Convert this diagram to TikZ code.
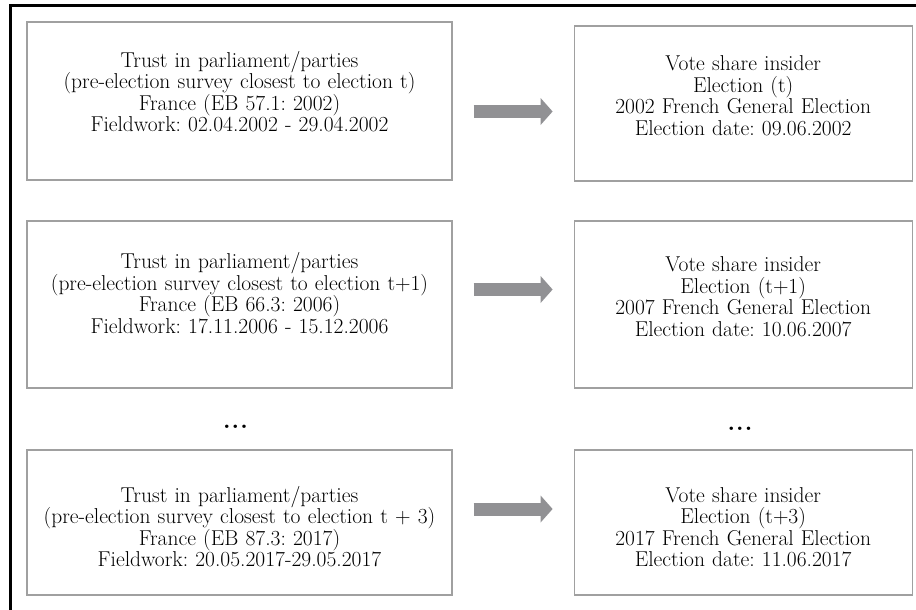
\documentclass[tikz,border=0pt]{standalone}
\usepackage{xcolor}
\definecolor{boxgray}{RGB}{160,160,160}
\definecolor{arrowgray}{RGB}{145,145,148}
\usepackage{tikz}
\usetikzlibrary{calc,arrows.meta,positioning}

\begin{document}
\begin{tikzpicture}
[	x=1pt, y=-1pt,
	frame/.style = {rectangle, draw=boxgray, line width=1.2pt, minimum width=425pt, inner sep=0pt},
	voteframe/.style = {frame, minimum width=338pt},
	boxtext/.style = {text width=420pt, align=center, inner sep=0pt, font=\fontsize{21.5}{21.5}\selectfont\frenchspacing},
	bigarrow/.style = {draw=arrowgray, line width=13pt, -{Triangle[length=12pt,width=27pt,line width=0pt]}, shorten <=21pt, shorten >=21pt},
	gap/.style = {font=\fontsize{24}{24}\selectfont\bfseries}
]
\useasboundingbox (0,0) rectangle (916,610);

\draw[line width=2.5pt] (916,5.5) -- (10.5,5.5) -- (10.5,610);

\node[frame, minimum height=158pt] (l1) at (239.5,101) {};
\node[frame, minimum height=167pt] (l2) at (239.5,304.5) {};
\node[frame, minimum height=145pt] (l3) at (239.5,522.5) {};

\node[voteframe, minimum height=155pt, right=121pt of l1, yshift=-2.5pt] (r1) {};
\node[voteframe, minimum height=167pt, right=121pt of l2] (r2) {};
\node[voteframe, minimum height=145pt, right=121pt of l3] (r3) {};

\node[boxtext] (l1text) at (l1.center |- 0,91.5) {Trust in parliament/parties\\(pre-election survey closest to election t)\\France (EB 57.1: 2002)\\Fieldwork: 02.04.2002 - 29.04.2002};
\node[boxtext] (l2text) at (l2.center |- 0,293) {Trust in parliament/parties\\(pre-election survey closest to election t+1)\\France (EB 66.3: 2006)\\Fieldwork: 17.11.2006 - 15.12.2006};
\node[boxtext] (l3text) at (l3.center |- 0,526.5) {Trust in parliament/parties\\(pre-election survey closest to election t + 3)\\France (EB 87.3: 2017)\\Fieldwork: 20.05.2017-29.05.2017};

\node[boxtext] (r1text) at (r1.center |- 0,95.5) {Vote share insider\\Election (t)\\2002 French General Election\\Election date: 09.06.2002};
\node[boxtext] (r2text) at (r2.center |- 0,296.5) {Vote share insider\\Election (t+1)\\2007 French General Election\\Election date: 10.06.2007};
\node[boxtext] (r3text) at (r3.center |- 0,527) {Vote share insider\\Election (t+3)\\2017 French General Election\\Election date: 11.06.2017};

\draw[bigarrow] ($(l1.east)+(0,10.5)$) -- ($(l1.east -| r1.west)+(0,10.5)$);
\draw[bigarrow] ($(l2.east)+(0,-15)$) -- ($(l2.east -| r2.west)+(0,-15)$);
\draw[bigarrow] ($(l3.east)+(0,-13.5)$) -- ($(l3.east -| r3.west)+(0,-13.5)$);

\node[gap] (ldots) at (235.5,427) {.\kern1pt.\kern1pt.};
\node[gap] (rdots) at (740,429) {.\kern1pt.\kern1pt.};

\end{tikzpicture}
\end{document}
